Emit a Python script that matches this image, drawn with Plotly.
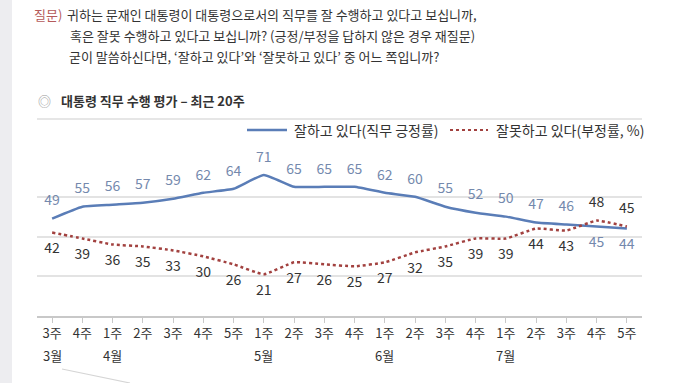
import plotly.graph_objects as go

weeks = ["3주", "4주", "1주", "2주", "3주", "4주", "5주", "1주", "2주", "3주",
         "4주", "1주", "2주", "3주", "4주", "1주", "2주", "3주", "4주", "5주"]
months = ["3월", "", "4월", "", "", "", "", "5월", "", "",
          "", "6월", "", "", "", "7월", "", "", "", ""]
positive = [49, 55, 56, 57, 59, 62, 64, 71, 65, 65, 65, 62, 60, 55, 52, 50, 47, 46, 45, 44]
negative = [42, 39, 36, 35, 33, 30, 26, 21, 27, 26, 25, 27, 32, 35, 39, 39, 44, 43, 48, 45]

pos_name = "잘하고 있다(직무 긍정률)"
neg_name = "잘못하고 있다(부정률, %)"

FONT = "Noto Sans CJK KR"
BLUE = "#5a7db7"
BLUE_TXT = "#7489ad"
RED = "#a2413f"
DARK = "#333333"

x = list(range(len(weeks)))

pos_pos = ["top center" if p >= n else "bottom center" for p, n in zip(positive, negative)]
neg_pos = ["bottom center" if p >= n else "top center" for p, n in zip(positive, negative)]

fig = go.Figure()
fig.add_trace(go.Scatter(
    x=x, y=positive, mode="lines+markers+text", name=pos_name,
    line=dict(color=BLUE, width=2.5, shape="spline", smoothing=0.4),
    marker=dict(size=14, color="rgba(0,0,0,0)"),
    text=[str(v) for v in positive], textposition=pos_pos,
    textfont=dict(family=FONT, size=14, color=BLUE_TXT),
    showlegend=False, cliponaxis=False, hoverinfo="skip",
))
fig.add_trace(go.Scatter(
    x=x, y=negative, mode="lines+markers+text", name=neg_name,
    line=dict(color=RED, width=2.5, dash="dot", shape="spline", smoothing=0.4),
    marker=dict(size=14, color="rgba(0,0,0,0)"),
    text=[str(v) for v in negative], textposition=neg_pos,
    textfont=dict(family=FONT, size=14, color=DARK),
    showlegend=False, cliponaxis=False, hoverinfo="skip",
))

shapes = [
    dict(type="rect", xref="paper", yref="paper", x0=-37/605, x1=-25/605, y0=-67/159, y1=(316)/159,
         fillcolor="#ededf0", line=dict(width=0), layer="above"),
    dict(type="line", xref="paper", yref="paper", x0=0, x1=1,
         y0=(316-119)/159, y1=(316-119)/159, line=dict(color="#e6e6e6", width=2)),
    dict(type="line", xref="paper", yref="paper", x0=(247-37)/605, x1=(287-37)/605,
         y0=(316-130)/159, y1=(316-130)/159, line=dict(color=BLUE, width=2.5)),
    dict(type="line", xref="paper", yref="paper", x0=(450-37)/605, x1=(488-37)/605,
         y0=(316-130)/159, y1=(316-130)/159, line=dict(color=RED, width=2.2, dash="dot")),
    dict(type="line", xref="paper", yref="paper", x0=(62-37)/605, x1=(130-37)/605,
         y0=(316-369)/159, y1=(316-383)/159, line=dict(color="#d5d5d5", width=1.2)),
]

def ann(text, px, py, size=13, color=DARK, bold=False, anchor="left"):
    return dict(text=("<b>%s</b>" % text) if bold else text, xref="paper", yref="paper",
                x=(px-37)/605, y=(316-py)/159, xanchor=anchor, yanchor="middle",
                showarrow=False, font=dict(family=FONT, size=size, color=color))

annotations = [
    ann("질문)", 32, 14, color="#b55a5a"),
    ann("귀하는 문재인 대통령이 대통령으로서의 직무를 잘 수행하고 있다고 보십니까,", 65, 14),
    ann("혹은 잘못 수행하고 있다고 보십니까? (긍정/부정을 답하지 않은 경우 재질문)", 68, 36),
    ann("굳이 말씀하신다면, ‘잘하고 있다’와 ‘잘못하고 있다’ 중 어느 쪽입니까?", 67, 57),
    ann("◎", 36, 100, size=13, color="#999999"),
    ann("대통령 직무 수행 평가 – 최근 20주", 59, 100, size=13, bold=True),
    ann(pos_name, 292, 130, size=14),
    ann(neg_name, 494, 130, size=14),
]
for i, m in enumerate(months):
    if m:
        annotations.append(dict(text=m, xref="x", yref="paper", x=i, y=(316-355)/159,
                                xanchor="center", yanchor="middle", showarrow=False,
                                font=dict(family=FONT, size=13, color=DARK)))

fig.update_layout(
    width=680, height=383,
    margin=dict(l=37, r=38, t=157, b=67),
    paper_bgcolor="white", plot_bgcolor="white",
    font=dict(family=FONT, color=DARK),
    shapes=shapes, annotations=annotations,
    xaxis=dict(
        tickmode="array", tickvals=x, ticktext=weeks,
        range=[-0.5, len(x) - 0.5], tickson="boundaries",
        ticks="outside", ticklen=5, tickcolor="#c8c8c8",
        showline=True, linecolor="#c8c8c8", linewidth=1.5,
        showgrid=False, zeroline=False, automargin=False,
        tickfont=dict(family=FONT, size=13, color=DARK),
    ),
    yaxis=dict(
        range=[0, 80], tickvals=[20, 40, 60, 80], showticklabels=False,
        showgrid=True, gridcolor="#e3e3e3", gridwidth=1.5,
        zeroline=False, showline=False, automargin=False,
    ),
)

fig.write_html("out.html", config={"displayModeBar": False},
               post_script="document.body.style.margin='0';document.body.style.overflow='hidden';")
